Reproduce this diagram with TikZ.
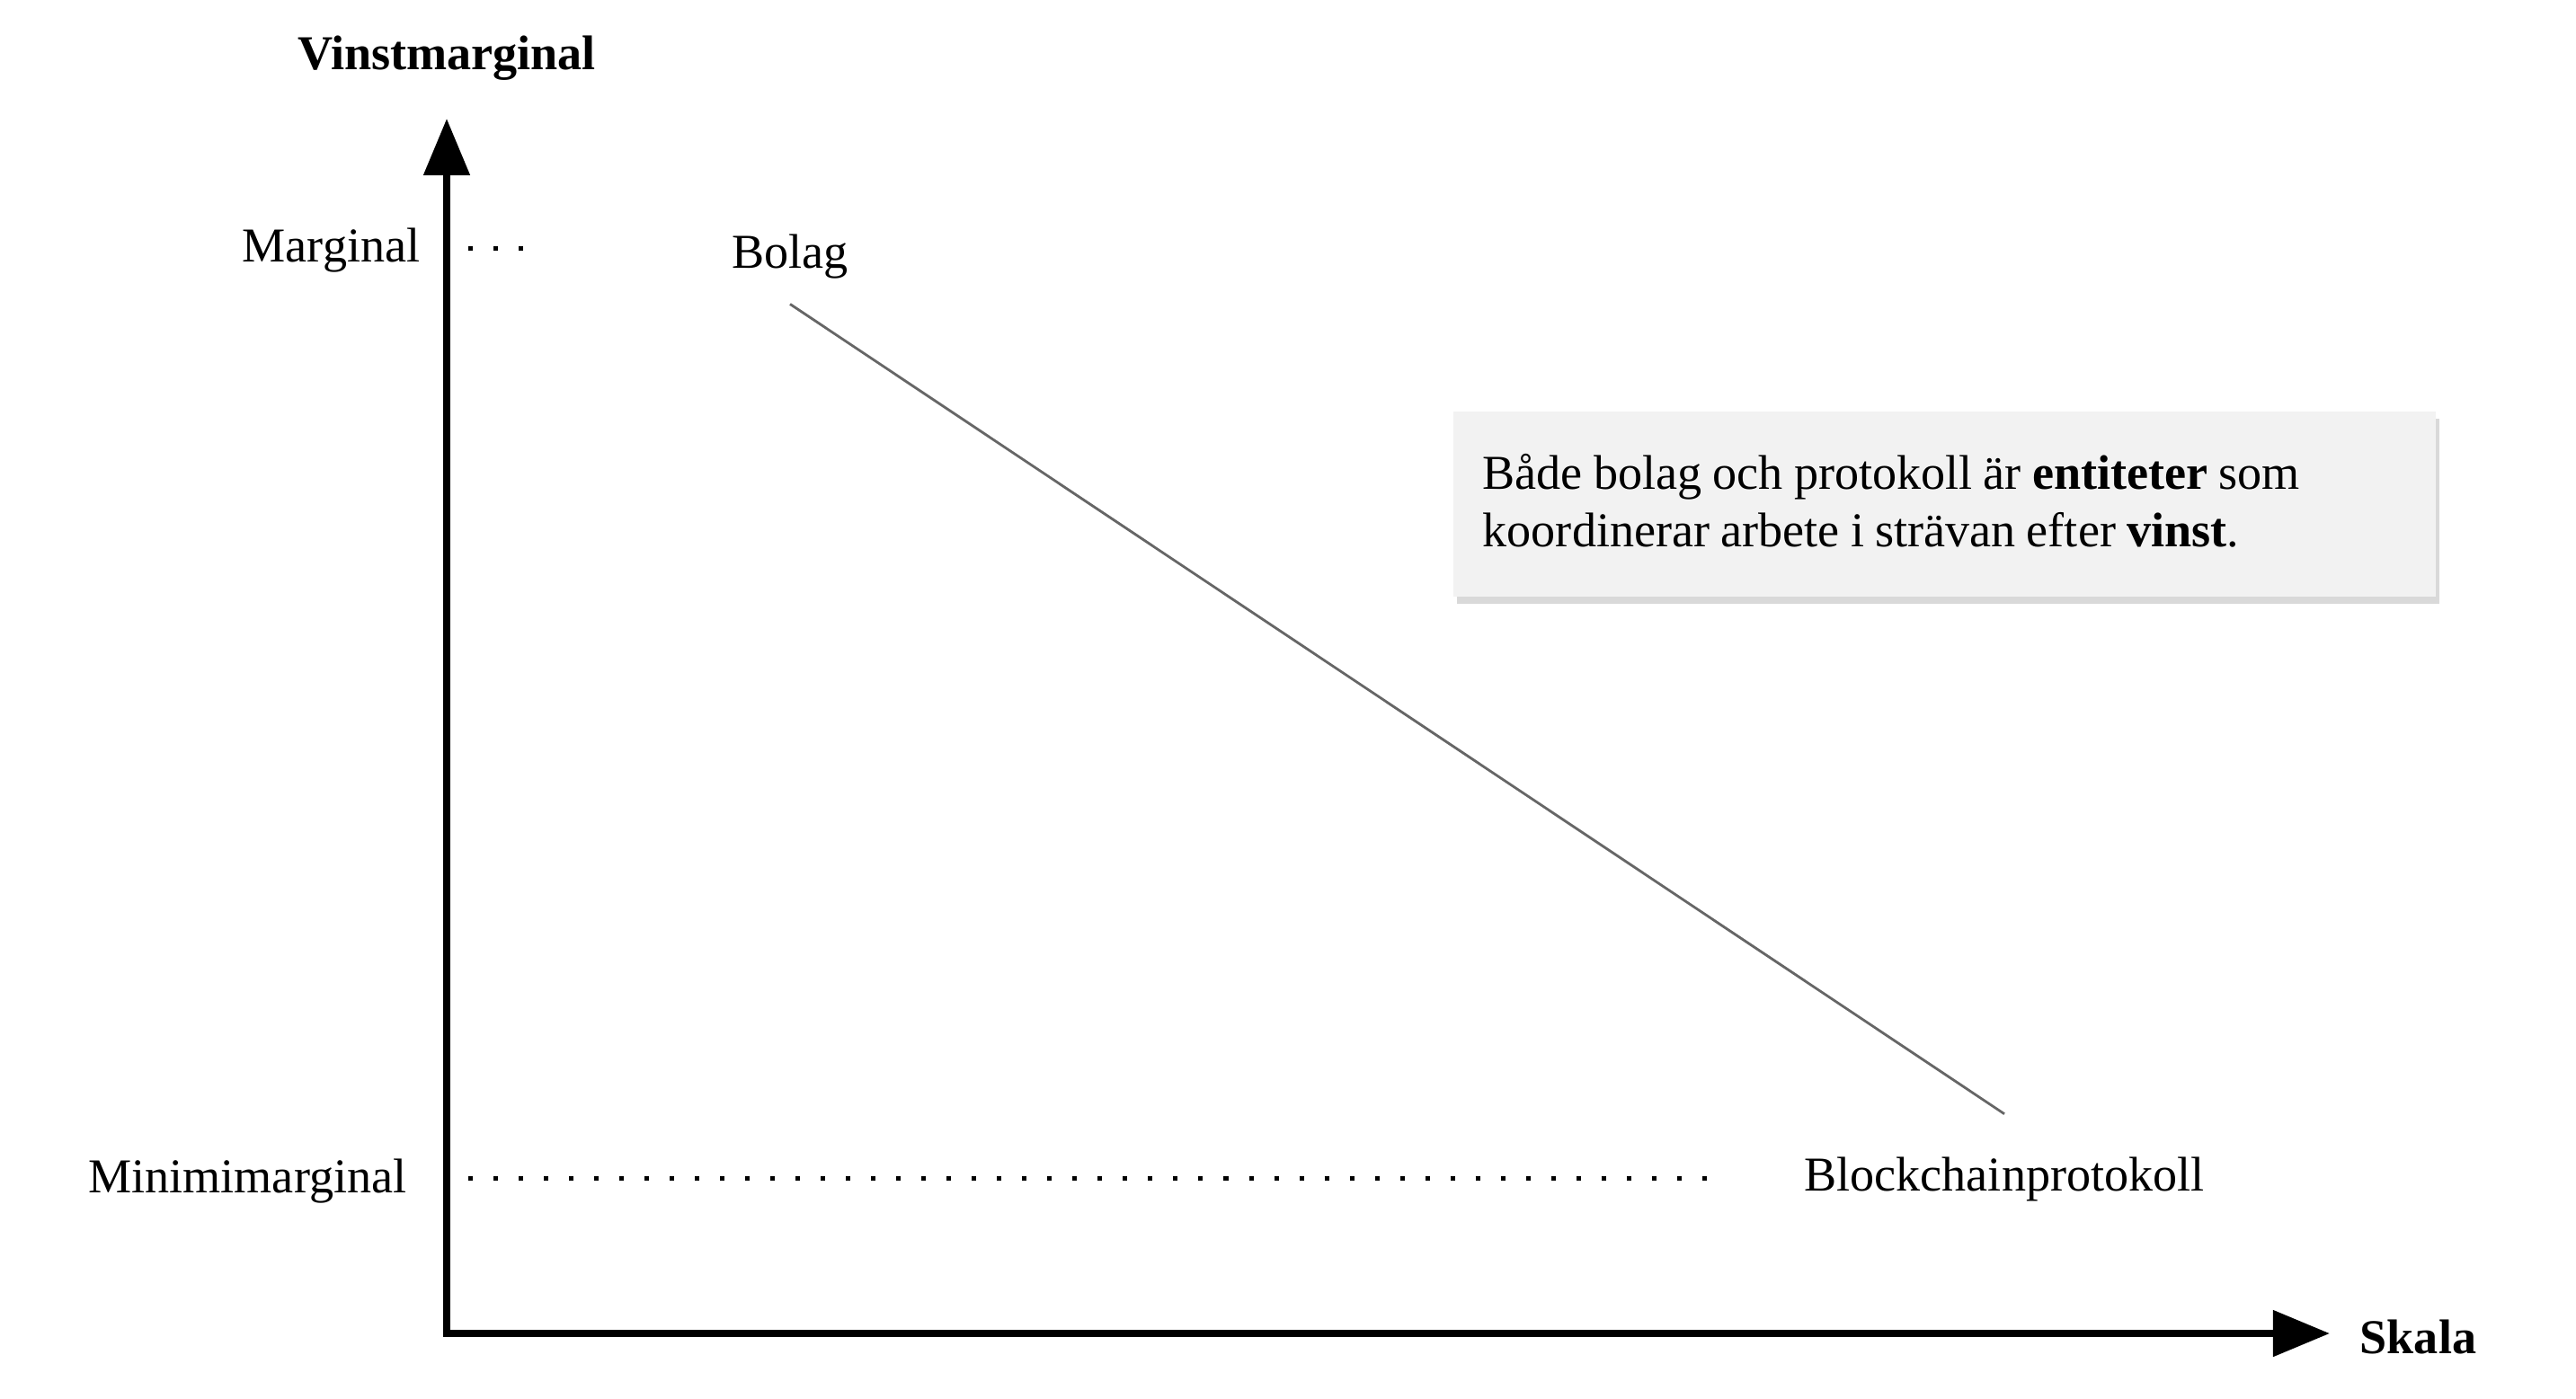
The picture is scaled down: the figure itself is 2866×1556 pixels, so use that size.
\documentclass[tikz,border=0pt]{standalone}
\usepackage{fontspec}
\setmainfont{Liberation Serif}
\usetikzlibrary{arrows.meta, positioning, shadows}

\begin{document}
\begin{tikzpicture}[
    x=0.01cm, y=-0.01cm,
    lbl/.style={font=\fontsize{15.4}{18.2}\selectfont, inner sep=0pt},
    axis/.style={line width=0.8mm, -{Triangle[length=6.3mm, width=5mm]}},
    guide/.style={line width=0.5mm, dash pattern=on 0.5mm off 2.3mm},
    trend/.style={draw=black!60, line width=0.8pt},
    note/.style={rectangle, fill=black!5, text width=10.27cm, minimum height=2.06cm,
        inner xsep=3.3mm, align=left, font=\fontsize{15.4}{18.2}\selectfont,
        drop shadow={shadow xshift=0.4mm, shadow yshift=-0.8mm, opacity=0.3}}
]
    \useasboundingbox (0,0) rectangle (2866,1556);

    % axes
    \coordinate (origin) at (497,1484);
    \coordinate (ytip) at (497,132);
    \coordinate (xtip) at (2592,1484);
    \draw[axis] (origin) -- (ytip);
    \draw[axis] ([xshift=-0.4mm]origin) -- (xtip);
    \node[lbl, font=\fontsize{15.4}{18.2}\selectfont\bfseries, anchor=base] (ylab) at (497,77) {Vinstmarginal};
    \node[lbl, font=\fontsize{15.4}{18.2}\selectfont\bfseries, anchor=base west] (xlab) at (2625,1506) {Skala};

    % levels
    \node[lbl, anchor=base east] (marg) at (468,291) {Marginal};
    \node[lbl, anchor=base east] (minmarg) at (453,1327) {Minimimarginal};
    \coordinate (margA) at (521,276);
    \coordinate (margB) at (590,276);
    \coordinate (minA) at (521,1311);
    \coordinate (minB) at (1915,1311);
    \draw[guide] (margA) -- (margB);
    \draw[guide] (minA) -- (minB);

    % entities
    \node[lbl, anchor=base] (bolag) at (879,298) {Bolag};
    \node[lbl, anchor=base] (block) at (2230,1325) {Blockchainprotokoll};
    \draw[trend] ([yshift=-2.8mm]bolag.south) -- ([yshift=4.7mm]block.north);

    \node[note, anchor=north west] (info) at (1616,457)
        {\spaceskip=0.225em plus 0.1em\relax
         Både bolag och protokoll är \textbf{entiteter} som\\
         koordinerar arbete i strävan efter \textbf{vinst}.\rule[-0.8mm]{0pt}{0.8mm}};
\end{tikzpicture}
\end{document}
